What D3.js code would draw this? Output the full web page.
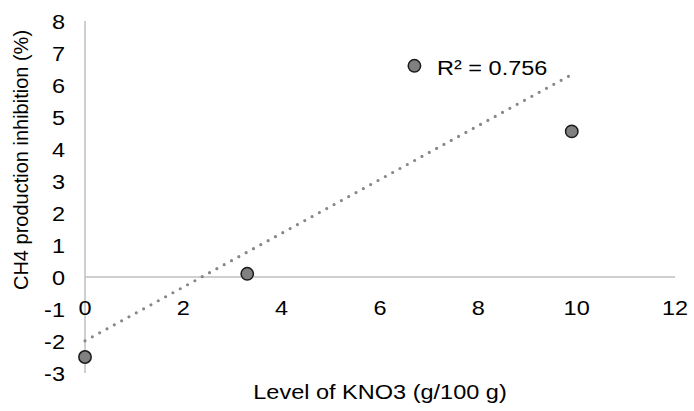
<!DOCTYPE html>
<html>
<head>
<meta charset="utf-8">
<script src="https://cdn.jsdelivr.net/npm/d3@7"></script>
<style>
  body { margin: 0; background: #fff; }
  text { font-family: "Liberation Sans", Arial, sans-serif; fill: #000; }
</style>
</head>
<body>
<svg id="chart"></svg>
<script>
// data
var kno3 = [0, 3.3, 6.7, 9.9];
var inhibition = [-2.5, 0.1, 6.6, 4.55];
var xTicks = [0, 2, 4, 6, 8, 10, 12];
var yTicks = [-3, -2, -1, 0, 1, 2, 3, 4, 5, 6, 7, 8];
var r2Label = "R\u00b2 = 0.756";
var xTitle = "Level of KNO3 (g/100 g)";
var yTitle = "CH4 production inhibition (%)";

var width = 694, height = 411;
var fontSize = 21, sx = 1.12; // text looks stretched sideways in the source

var svg = d3.select("#chart").attr("width", width).attr("height", height);

var x = d3.scaleLinear().domain([0, 12]).range([85, 675]);
var y = d3.scaleLinear().domain([-3, 8]).range([373, 21]);

var points = kno3.map(function (d, i) { return { x: d, y: inhibition[i] }; });

// helper: put text at a point, stretched horizontally
function label(g, px, py, str, anchor) {
  return g.append("text")
    .attr("transform", "translate(" + px + "," + py + ") scale(" + sx + ",1)")
    .attr("text-anchor", anchor)
    .style("font-size", fontSize + "px")
    .text(str);
}

// axis lines
svg.append("line")
  .attr("x1", x(0)).attr("x2", x(0))
  .attr("y1", y(8)).attr("y2", y(-3))
  .attr("stroke", "#bfbfbf").attr("stroke-width", 1.5);

svg.append("line")
  .attr("x1", x(0)).attr("x2", x(12))
  .attr("y1", y(0)).attr("y2", y(0))
  .attr("stroke", "#bfbfbf").attr("stroke-width", 1.5);

// y tick labels
var yLab = svg.append("g");
yTicks.forEach(function (t) {
  label(yLab, x(0) - 20, y(t), t, "end").attr("dy", "0.36em");
});

// x tick labels, next to the zero line
var xLab = svg.append("g");
xTicks.forEach(function (t) {
  label(xLab, x(t), y(0) + 38, t, "middle");
});

// linear trendline (least squares)
var mx = d3.mean(kno3), my = d3.mean(inhibition);
var sxy = d3.sum(points, function (p) { return (p.x - mx) * (p.y - my); });
var sxx = d3.sum(points, function (p) { return (p.x - mx) * (p.x - mx); });
var slope = sxy / sxx, intercept = my - slope * mx;
var ext = d3.extent(kno3);
var trend = ext.map(function (v) { return { x: v, y: intercept + slope * v }; });

var line = d3.line()
  .x(function (d) { return x(d.x); })
  .y(function (d) { return y(d.y); });

svg.append("path")
  .datum(trend)
  .attr("d", line)
  .attr("fill", "none")
  .attr("stroke", "#878787")
  .attr("stroke-width", 3.2)
  .attr("stroke-linecap", "round")
  .attr("stroke-dasharray", "0,8.35");

// points
svg.selectAll(".dot")
  .data(points)
  .enter()
  .append("circle")
  .attr("class", "dot")
  .attr("cx", function (d) { return x(d.x); })
  .attr("cy", function (d) { return y(d.y); })
  .attr("r", 6.2)
  .attr("fill", "#808080")
  .attr("stroke", "#1a1a1a")
  .attr("stroke-width", 1.5);

// R² label
label(svg, 437, 75, r2Label, "start");

// axis titles
label(svg, 380, 399, xTitle, "middle");

// y title: rotated, not stretched along its length
svg.append("text")
  .attr("transform", "translate(28,160) rotate(-90)")
  .attr("text-anchor", "middle")
  .style("font-size", "20px")
  .text(yTitle);
</script>
</body>
</html>
